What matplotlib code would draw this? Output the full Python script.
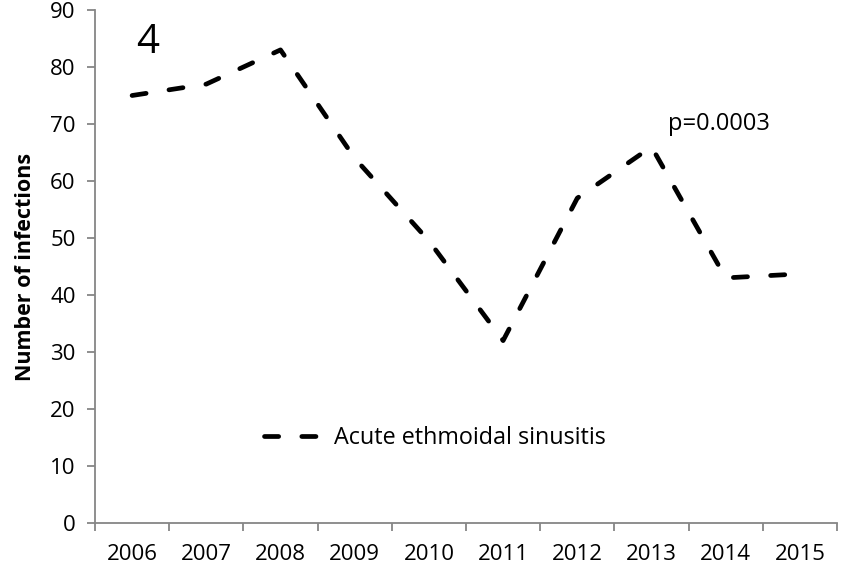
import matplotlib

matplotlib.use("Agg")
import matplotlib.pyplot as plt
from matplotlib.ticker import FixedLocator

years = ["2006", "2007", "2008", "2009", "2010", "2011", "2012", "2013", "2014", "2015"]
infections = [75, 77, 83, 64, 49.5, 32, 57, 66, 43, 43.7]
series_name = "Acute ethmoidal sinusitis"
y_ticks = [0, 10, 20, 30, 40, 50, 60, 70, 80, 90]

plt.rcParams["font.family"] = ["Open Sans", "DejaVu Sans"]
axis_grey = "#868686"

fig = plt.figure(figsize=(8.46, 5.69), dpi=100)
ax = fig.add_axes([95 / 846, 1 - 523 / 569, (837 - 95) / 846, (523 - 10) / 569])

pos = list(range(len(years)))
ax.plot(pos, infections, color="black", linewidth=3.4,
        linestyle=(0, (3.0, 4.9)), dash_capstyle="round", label=series_name)

ax.set_xlim(-0.5, len(years) - 0.5)
ax.set_ylim(0, 90)

# category axis: ticks between categories, labels centred on them
ax.xaxis.set_major_locator(FixedLocator([p - 0.5 for p in range(len(years) + 1)]))
ax.set_xticklabels([])
ax.set_xticks(pos, minor=True)
ax.set_xticklabels(years, minor=True)
ax.tick_params(axis="x", which="major", length=5.5, width=1.3, color=axis_grey, direction="out")
ax.tick_params(axis="x", which="minor", length=0, pad=15, labelsize=16)

ax.set_yticks(y_ticks)
ax.tick_params(axis="y", length=6, width=1.3, color=axis_grey, pad=8, labelsize=16)

for side in ("top", "right"):
    ax.spines[side].set_visible(False)
for side in ("left", "bottom"):
    ax.spines[side].set_color(axis_grey)
    ax.spines[side].set_linewidth(1.3)

ax.set_ylabel("Number of infections", fontsize=15.5, fontweight="bold", labelpad=10)

ax.text(0.055, 0.975, "4", transform=ax.transAxes, fontsize=29, va="top", ha="left")
ax.text(7.22, 70, "p=0.0003", fontsize=17, va="center", ha="left")

ax.legend(loc="center left", bbox_to_anchor=(0.2, 0.166), frameon=False,
          fontsize=16.8, handlelength=2.45, handletextpad=0.55)

fig.savefig("out.png", dpi=100)
